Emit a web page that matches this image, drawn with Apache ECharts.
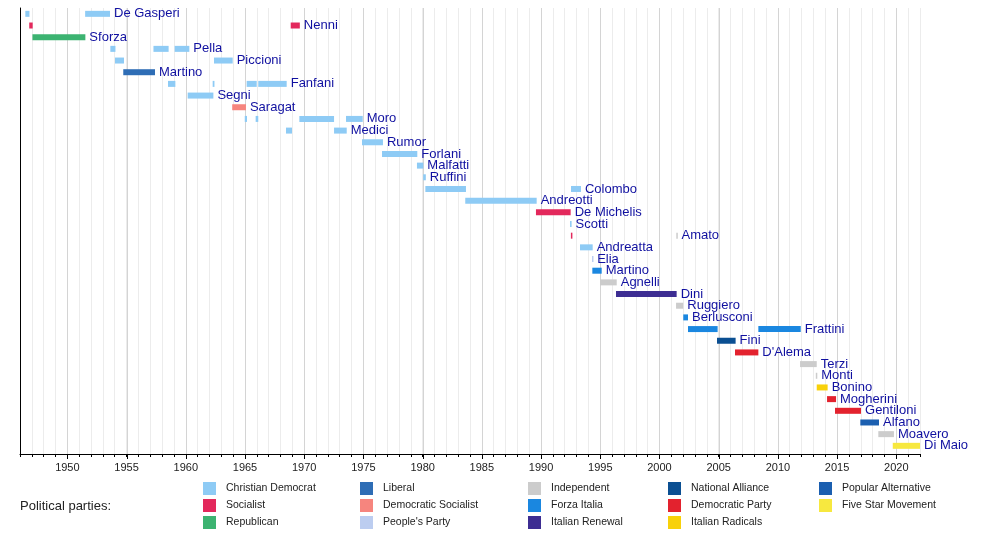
<!DOCTYPE html>
<html>
<head>
<meta charset="utf-8">
<script src="https://cdn.jsdelivr.net/npm/echarts@6/dist/echarts.min.js"></script>
<style>
  html, body { margin: 0; padding: 0; background: #fff; }
  #chart-container { width: 1000px; height: 534px; }
</style>
</head>
<body>
<div id="chart-container"></div>
<script>
var dom = document.getElementById('chart-container');
var myChart = echarts.init(dom);
var option;

// one row per minister, top to bottom
var ministers = [
  'De Gasperi', 'Nenni', 'Sforza', 'Pella', 'Piccioni', 'Martino', 'Fanfani',
  'Segni', 'Saragat', 'Moro', 'Medici', 'Rumor', 'Forlani', 'Malfatti',
  'Ruffini', 'Colombo', 'Andreotti', 'De Michelis', 'Scotti', 'Amato',
  'Andreatta', 'Elia', 'Martino', 'Agnelli', 'Dini', 'Ruggiero', 'Berlusconi',
  'Frattini', 'Fini', "D'Alema", 'Terzi', 'Monti', 'Bonino', 'Mogherini',
  'Gentiloni', 'Alfano', 'Moavero', 'Di Maio'
];

var parties = [
  'Christian Democrat', 'Socialist', 'Republican', 'Liberal',
  'Democratic Socialist', "People's Party", 'Independent', 'Forza Italia',
  'Italian Renewal', 'National Alliance', 'Democratic Party',
  'Italian Radicals', 'Popular Alternative', 'Five Star Movement'
];

var partyColors = [
  '#8ecbf5', '#e3285c', '#3cb371', '#2e6db5', '#f6857e', '#bccdf0',
  '#cccccc', '#1a87e0', '#3d2d92', '#0b4f92', '#e3222e', '#f8d10a',
  '#1b5fb0', '#f7e83f'
];

// [minister row, start year, end year, party]
var terms = [
  [0, 1946.45, 1946.8, 0], [0, 1951.5, 1953.6, 0],
  [1, 1946.78, 1947.07, 1], [1, 1968.86, 1969.63, 1],
  [2, 1947.05, 1951.52, 2],
  [3, 1953.63, 1954.06, 0], [3, 1957.27, 1958.55, 0], [3, 1959.06, 1960.3, 0],
  [4, 1954.02, 1954.78, 0], [4, 1962.38, 1963.96, 0],
  [5, 1954.72, 1957.4, 3],
  [6, 1958.5, 1959.12, 0], [6, 1962.27, 1962.42, 0], [6, 1965.14, 1965.99, 0], [6, 1966.12, 1968.52, 0],
  [7, 1960.16, 1962.33, 0],
  [8, 1963.92, 1965.08, 4],
  [9, 1964.98, 1965.17, 0], [9, 1965.9, 1966.12, 0], [9, 1969.59, 1972.52, 0], [9, 1973.53, 1974.94, 0],
  [10, 1968.46, 1968.97, 0], [10, 1972.52, 1973.59, 0],
  [11, 1974.88, 1976.65, 0],
  [12, 1976.57, 1979.55, 0],
  [13, 1979.52, 1980.06, 0],
  [14, 1980.05, 1980.27, 0],
  [15, 1980.23, 1983.66, 0], [15, 1992.53, 1993.37, 0],
  [16, 1983.6, 1989.63, 0],
  [17, 1989.57, 1992.5, 1],
  [18, 1992.45, 1992.58, 0],
  [19, 1992.52, 1992.62, 1], [19, 2001.42, 2001.52, 6],
  [20, 1993.29, 1994.36, 0],
  [21, 1994.3, 1994.4, 5],
  [22, 1994.33, 1995.12, 7],
  [23, 1994.98, 1996.39, 6],
  [24, 1996.33, 2001.45, 8],
  [25, 2001.4, 2002.01, 6],
  [26, 2002.01, 2002.41, 7],
  [27, 2002.41, 2004.91, 7], [27, 2008.35, 2011.93, 7],
  [28, 2004.86, 2006.43, 9],
  [29, 2006.38, 2008.35, 10],
  [30, 2011.87, 2013.28, 6],
  [31, 2013.2, 2013.32, 6],
  [32, 2013.28, 2014.2, 11],
  [33, 2014.15, 2014.91, 10],
  [34, 2014.82, 2017.02, 10],
  [35, 2016.96, 2018.54, 12],
  [36, 2018.48, 2019.8, 6],
  [37, 2019.7, 2022.0, 13]
];

var yearMin = 1946;
var yearMax = 2022;
var majorYears = [1950, 1955, 1960, 1965, 1970, 1975, 1980, 1985, 1990, 1995, 2000, 2005, 2010, 2015, 2020];

var legendColumns = [
  ['Christian Democrat', 'Socialist', 'Republican'],
  ['Liberal', 'Democratic Socialist', "People's Party"],
  ['Independent', 'Forza Italia', 'Italian Renewal'],
  ['National Alliance', 'Democratic Party', 'Italian Radicals'],
  ['Popular Alternative', 'Five Star Movement']
];
var legendLeft = [203, 360, 528, 668, 819];

var FONT = '"Liberation Sans", Arial, sans-serif';

function renderBar(params, api) {
  var a = api.coord([api.value(1), api.value(0)]);
  var b = api.coord([api.value(2), api.value(0)]);
  var w = Math.max(b[0] - a[0], 1.5);
  return {
    type: 'rect',
    shape: { x: a[0], y: a[1] - 3, width: w, height: 6 },
    style: { fill: api.visual('color') }
  };
}

var series = parties.map(function (p, i) {
  return {
    name: p,
    type: 'custom',
    z: 3,
    renderItem: renderBar,
    itemStyle: { color: partyColors[i] },
    encode: { x: [1, 2], y: 0 },
    data: terms.filter(function (t) { return t[3] === i; })
  };
});

// minister name after the last term
var nameData = ministers.map(function (n, i) {
  var last = 0;
  terms.forEach(function (t) { if (t[0] === i && t[2] > last) last = t[2]; });
  return [i, last, n];
});
series.push({
  name: 'names',
  type: 'custom',
  z: 4,
  silent: true,
  encode: { x: 1, y: 0 },
  renderItem: function (params, api) {
    var p = api.coord([api.value(1), api.value(0)]);
    return {
      type: 'text',
      x: p[0] + 4,
      y: p[1],
      style: {
        text: nameData[params.dataIndex][2],
        fill: '#1010a0',
        font: '13px ' + FONT,
        textVerticalAlign: 'middle'
      }
    };
  },
  data: nameData
});

// 5-year grid lines and long ticks
series.push({
  name: 'major',
  type: 'custom',
  z: 1,
  silent: true,
  encode: { x: 0 },
  renderItem: function (params, api) {
    var cs = params.coordSys;
    var x = Math.round(api.coord([api.value(0), 0])[0]) + 0.5;
    var bottom = cs.y + cs.height;
    return {
      type: 'group',
      children: [
        { type: 'line', shape: { x1: x, y1: cs.y, x2: x, y2: bottom },
          style: { stroke: '#d4d4d4', lineWidth: 1 } },
        { type: 'line', shape: { x1: x, y1: bottom, x2: x, y2: bottom + 5 },
          style: { stroke: '#000', lineWidth: 1 } }
      ]
    };
  },
  data: majorYears.map(function (y) { return [y]; })
});

option = {
  animation: false,
  textStyle: { fontFamily: FONT },
  grid: { left: 20, right: 80, top: 8, bottom: 80, containLabel: false },
  xAxis: {
    type: 'value',
    position: 'bottom',
    min: yearMin,
    max: yearMax,
    interval: 1,
    axisLine: { onZero: false, lineStyle: { color: '#000', width: 1 } },
    axisTick: { length: 3, lineStyle: { color: '#000' } },
    axisLabel: {
      fontSize: 11,
      color: '#222',
      margin: 8,
      formatter: function (v) { return v % 5 === 0 ? String(v) : ''; }
    },
    splitLine: { show: true, lineStyle: { color: '#ececec', width: 1 } }
  },
  yAxis: {
    type: 'value',
    inverse: true,
    min: -0.5,
    max: 37.7,
    axisLine: { show: true, onZero: false, lineStyle: { color: '#000', width: 1 } },
    axisTick: { show: false },
    axisLabel: { show: false },
    splitLine: { show: false }
  },
  legend: legendColumns.map(function (col, i) {
    return {
      data: col,
      orient: 'vertical',
      left: legendLeft[i],
      top: 482,
      padding: 0,
      itemWidth: 13,
      itemHeight: 13,
      itemGap: 4,
      icon: 'rect',
      selectedMode: false,
      textStyle: { fontSize: 10.5, color: '#222', padding: [0, 0, 0, 5], fontFamily: FONT }
    };
  }),
  graphic: [{
    type: 'text',
    left: 20,
    top: 500,
    style: { text: 'Political parties:', font: '13px ' + FONT, fill: '#222' }
  }],
  series: series
};

if (option && typeof option === 'object') {
  myChart.setOption(option);
}

window.addEventListener('resize', myChart.resize);
</script>
</body>
</html>
